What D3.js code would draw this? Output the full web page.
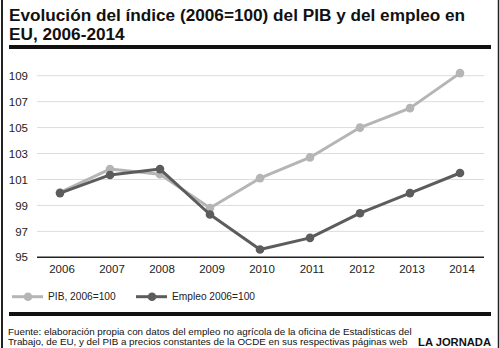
<!DOCTYPE html>
<html>
<head>
<meta charset="utf-8">
<script src="https://cdn.jsdelivr.net/npm/d3@7"></script>
<style>
  html, body { margin: 0; padding: 0; background: #fff; }
  svg { display: block; }
  text { font-family: "Liberation Sans", Arial, Helvetica, sans-serif; }
</style>
</head>
<body>
<div id="chart"></div>
<script>
const years = ["2006","2007","2008","2009","2010","2011","2012","2013","2014"];
const pib = [100.0, 101.8, 101.4, 98.8, 101.1, 102.7, 105.0, 106.5, 109.2];
const empleo = [99.95, 101.35, 101.8, 98.3, 95.6, 96.5, 98.4, 99.95, 101.5];
const yTicks = [95, 97, 99, 101, 103, 105, 107, 109];
const titleLines = ["Evolución del índice (2006=100) del PIB y del empleo en", "EU, 2006-2014"];
const sourceLines = [
  "Fuente: elaboración propia con datos del empleo no agrícola de la oficina de Estadísticas del",
  "Trabajo, de EU, y del PIB a precios constantes de la OCDE en sus respectivas páginas web"
];
const seriesNames = ["PIB, 2006=100", "Empleo 2006=100"];
const brand = "LA JORNADA";

const W = 500, H = 348;
const lightC = "#b5b5b5", darkC = "#5c5c5c";

const svg = d3.select("#chart").append("svg").attr("width", W).attr("height", H);

// frame
svg.append("line").attr("x1", 2).attr("x2", 2).attr("y1", 0).attr("y2", H)
  .attr("stroke", "#222").attr("stroke-width", 2);
svg.append("line").attr("x1", 498.5).attr("x2", 498.5).attr("y1", 0).attr("y2", H)
  .attr("stroke", "#222").attr("stroke-width", 1.5);

// title
svg.append("g").selectAll("text").data(titleLines).join("text")
  .attr("x", 9).attr("y", (d, i) => 21 + i * 19)
  .attr("font-size", 17.2).attr("font-weight", "bold").attr("fill", "#111")
  .text(d => d);

svg.append("rect").attr("x", 9).attr("y", 45).attr("width", 482).attr("height", 4).attr("fill", "#111");

const x = d3.scaleBand().domain(years).range([35, 485]);
const y = d3.scaleLinear().domain([95, 109]).range([257.3, 75.7]);
const cx = d => x(d) + x.bandwidth() / 2;

// grid
svg.append("g").selectAll("line").data(yTicks.filter(t => t !== 95)).join("line")
  .attr("x1", 37).attr("x2", 484)
  .attr("y1", d => y(d)).attr("y2", d => y(d))
  .attr("stroke", "#dcdcdc").attr("stroke-width", 1);

// y axis labels
const yAxis = d3.axisLeft(y).tickValues(yTicks).tickSize(0).tickPadding(0);
const gy = svg.append("g").attr("transform", "translate(28,0)").call(yAxis);
gy.select(".domain").remove();
gy.selectAll("text").attr("font-size", 11.5).attr("fill", "#222")
  .attr("font-family", "'Liberation Sans', Arial, sans-serif");

// x axis
const xAxis = d3.axisBottom(x).tickSize(0).tickPadding(0);
const gx = svg.append("g").attr("transform", "translate(0,257.3)").call(xAxis);
gx.select(".domain").remove();
gx.selectAll("text").attr("font-size", 11.5).attr("fill", "#222").attr("dy", "1.4em")
  .attr("dx", 2)
  .attr("font-family", "'Liberation Sans', Arial, sans-serif");
svg.append("line").attr("x1", 37).attr("x2", 484).attr("y1", y(95)).attr("y2", y(95))
  .attr("stroke", "#222").attr("stroke-width", 1.5);

const line = d3.line().x((d, i) => cx(years[i])).y(d => y(d));

function drawSeries(vals, color) {
  svg.append("path").datum(vals).attr("d", line)
    .attr("fill", "none").attr("stroke", color).attr("stroke-width", 3)
    .attr("stroke-linejoin", "round");
  svg.append("g").selectAll("circle").data(vals).join("circle")
    .attr("cx", (d, i) => cx(years[i])).attr("cy", d => y(d)).attr("r", 4.3)
    .attr("fill", color);
}
drawSeries(pib, lightC);
drawSeries(empleo, darkC);

// legend
const legend = [
  { name: seriesNames[0], color: lightC, x0: 12 },
  { name: seriesNames[1], color: darkC, x0: 136 }
];
const lg = svg.append("g").selectAll("g").data(legend).join("g")
  .attr("transform", d => `translate(${d.x0},296.7)`);
lg.append("line").attr("x1", 0).attr("x2", 31).attr("stroke", d => d.color).attr("stroke-width", 3);
lg.append("circle").attr("cx", 16).attr("r", 4.3).attr("fill", d => d.color);
lg.append("text").attr("x", 36).attr("dy", "0.35em").attr("font-size", 10.2).attr("fill", "#222")
  .text(d => d.name);

svg.append("rect").attr("x", 9).attr("y", 312).attr("width", 482).attr("height", 4).attr("fill", "#111");

svg.append("g").selectAll("text").data(sourceLines).join("text")
  .attr("x", 8).attr("y", (d, i) => 334.5 + i * 10.5)
  .attr("font-size", 9.8).attr("fill", "#111")
  .text(d => d);

svg.append("text").attr("x", 491).attr("y", 345.5).attr("text-anchor", "end")
  .attr("font-size", 11.2).attr("font-weight", "bold").attr("fill", "#111").text(brand);
</script>
</body>
</html>
